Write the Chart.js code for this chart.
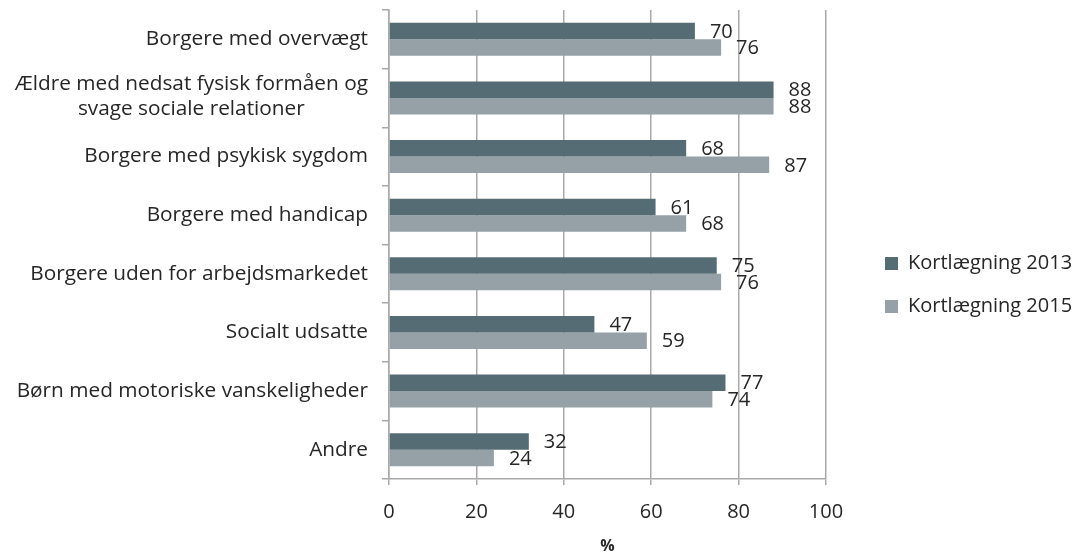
<!DOCTYPE html>
<html lang="da">
<head>
<meta charset="utf-8">
<title>Målgrupper – Kortlægning 2013 og 2015</title>
<script src="https://cdn.jsdelivr.net/npm/chart.js@4/dist/chart.umd.min.js"></script>
<style>
  html, body { margin: 0; padding: 0; background: #ffffff; }
  #wrap { position: relative; width: 1083px; height: 556px; }
</style>
</head>
<body>
<div id="wrap"><canvas id="chart"></canvas></div>
<script>
// Target groups; a nested array is a label broken over two lines
const categories = [
  'Borgere med overvægt',
  ['Ældre med nedsat fysisk formåen og', 'svage sociale relationer'],
  'Borgere med psykisk sygdom',
  'Borgere med handicap',
  'Borgere uden for arbejdsmarkedet',
  'Socialt udsatte',
  'Børn med motoriske vanskeligheder',
  'Andre'
];

const seriesNames = ['Kortlægning 2013', 'Kortlægning 2015'];
const values2013 = [70, 88, 68, 61, 75, 47, 77, 32];
const values2015 = [76, 88, 87, 68, 76, 59, 74, 24];

const xTicks = [0, 20, 40, 60, 80, 100];
const xTitle = '%';

const FONT = '"Open Sans", "DejaVu Sans", sans-serif';
const TEXT = '#262626';
const GRID = '#a9a9a9';

// Category labels: each block right-aligned to the axis, its lines centred on each other
const categoryLabels = {
  id: 'categoryLabels',
  afterDraw(chart) {
    const y = chart.scales.y;
    const ctx = chart.ctx;
    const lineH = 25;
    ctx.save();
    ctx.font = '20.8px ' + FONT;
    ctx.fillStyle = TEXT;
    ctx.textAlign = 'center';
    ctx.textBaseline = 'middle';
    const right = y.right - 21;
    chart.data.labels.forEach((lab, i) => {
      const lines = Array.isArray(lab) ? lab : [lab];
      const w = Math.max(...lines.map(l => ctx.measureText(l).width));
      const cx = right - w / 2;
      const cy = y.getPixelForTick(i) - (lines.length > 1 ? 1.5 : 0);
      const top = cy - (lines.length - 1) * lineH / 2;
      lines.forEach((l, k) => ctx.fillText(l, cx, top + k * lineH));
    });
    ctx.restore();
  }
};

// Value labels just past the end of every bar
const valueLabels = {
  id: 'valueLabels',
  afterDatasetsDraw(chart) {
    const ctx = chart.ctx;
    ctx.save();
    ctx.font = '20px ' + FONT;
    ctx.fillStyle = TEXT;
    ctx.textAlign = 'left';
    ctx.textBaseline = 'middle';
    chart.data.datasets.forEach((ds, di) => {
      chart.getDatasetMeta(di).data.forEach((bar, i) => {
        ctx.fillText(String(ds.data[i]), bar.x + 15, bar.y + 1);
      });
    });
    ctx.restore();
  }
};

// Leave a gap between the plot and the legend, and let the legend run to the right edge
const legendGap = {
  id: 'legendGap',
  afterLayout(chart) {
    const lg = chart.legend;
    if (!lg) return;
    lg.left = chart.chartArea.right + 36;
    lg.right = chart.width;
    lg.width = lg.right - lg.left;
    lg.top += 2;
    lg.bottom += 2;
  }
};

new Chart(document.getElementById('chart'), {
  type: 'bar',
  data: {
    labels: categories,
    datasets: [
      { label: seriesNames[0], data: values2013, backgroundColor: '#566c75' },
      { label: seriesNames[1], data: values2015, backgroundColor: '#95a1a6' }
    ]
  },
  options: {
    indexAxis: 'y',
    responsive: true,
    maintainAspectRatio: false,
    animation: false,
    devicePixelRatio: 1,
    datasets: { bar: { categoryPercentage: 0.565, barPercentage: 1.0 } },
    layout: { padding: { top: 10, right: 57, bottom: 0, left: 0 } },
    plugins: {
      tooltip: { enabled: false },
      legend: {
        position: 'right',
        maxWidth: 200,
        labels: {
          font: { family: FONT, size: 20 },
          color: TEXT,
          boxWidth: 13,
          boxHeight: 13,
          padding: 23
        }
      }
    },
    scales: {
      x: {
        type: 'linear',
        min: 0,
        max: 100,
        afterBuildTicks(scale) { scale.ticks = xTicks.map(v => ({ value: v })); },
        afterFit(scale) { scale.height = 77; },
        grid: { color: GRID, lineWidth: 1.5, drawTicks: true, tickLength: 6 },
        border: { display: true, color: GRID, width: 1.5 },
        ticks: { font: { family: FONT, size: 20 }, color: TEXT, padding: 15 },
        title: {
          display: true,
          text: xTitle,
          font: { family: FONT, size: 16, weight: 'bold' },
          color: TEXT,
          padding: { top: 0, bottom: 0 }
        }
      },
      y: {
        type: 'category',
        offset: true,
        afterFit(scale) { scale.width = 389; },
        grid: { offset: true, drawOnChartArea: false, drawTicks: true, tickLength: 7, color: GRID, lineWidth: 1.5 },
        border: { display: true, color: GRID, width: 1.5 },
        ticks: { display: false }
      }
    }
  },
  plugins: [categoryLabels, valueLabels, legendGap]
});
</script>
</body>
</html>
